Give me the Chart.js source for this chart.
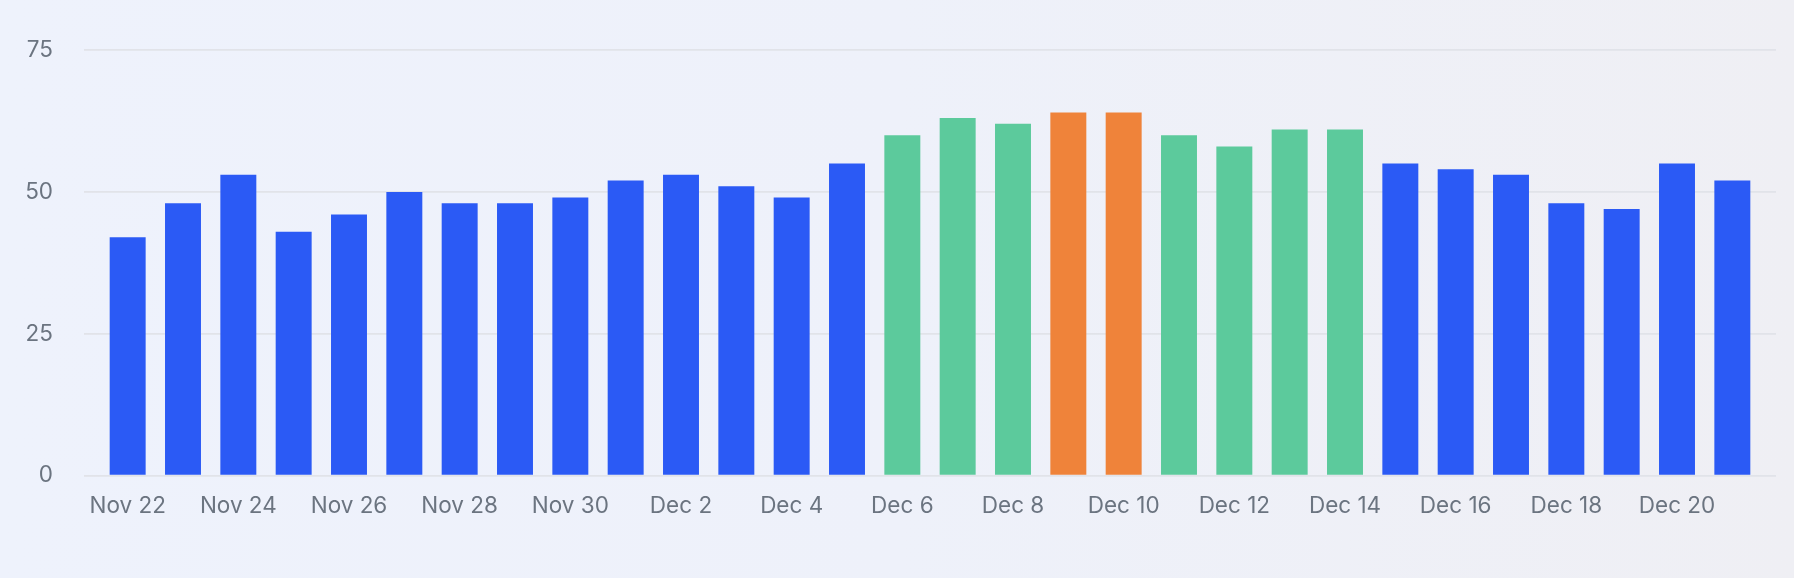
<!DOCTYPE html>
<html>
<head>
<meta charset="utf-8">
<script src="https://cdn.jsdelivr.net/npm/chart.js@4.4.1/dist/chart.umd.min.js"></script>
<style>
  html, body { margin: 0; padding: 0; }
  body {
    width: 1794px; height: 578px; overflow: hidden;
    background: linear-gradient(90deg, #eef2fc 0%, #eef1fa 50%, #efeff4 100%);
  }
  #wrap { position: relative; width: 1794px; height: 578px; }
</style>
</head>
<body>
<div id="wrap"><canvas id="c" width="1794" height="578"></canvas></div>
<script>
const categories = [
  "Nov 22","Nov 23","Nov 24","Nov 25","Nov 26","Nov 27","Nov 28","Nov 29","Nov 30",
  "Dec 1","Dec 2","Dec 3","Dec 4","Dec 5","Dec 6","Dec 7","Dec 8","Dec 9","Dec 10",
  "Dec 11","Dec 12","Dec 13","Dec 14","Dec 15","Dec 16","Dec 17","Dec 18","Dec 19","Dec 20","Dec 21"
];
const values = [
  42, 48, 53, 43, 46, 50, 48, 48, 49,
  52, 53, 51, 49, 55, 60, 63, 62, 64, 64,
  60, 58, 61, 61, 55, 54, 53, 48, 47, 55, 52
];
const yTicks = [0, 25, 50, 75];

const BLUE = '#2b5af5', GREEN = '#5cca9c', ORANGE = '#ef833a';
const barColors = values.map(v => v >= 64 ? ORANGE : (v >= 58 ? GREEN : BLUE));

const GRID = '#e1e3e9';
const TEXT = '#6b7480';
const FONT = { family: 'Inter', size: 22.5 };

new Chart(document.getElementById('c'), {
  type: 'bar',
  data: {
    labels: categories,
    datasets: [{
      data: values,
      backgroundColor: barColors,
      borderWidth: 0,
      barPercentage: 0.65,
      categoryPercentage: 1.0
    }]
  },
  options: {
    responsive: false,
    animation: false,
    events: [],
    layout: { padding: { left: 0, right: 18, top: 50, bottom: 0 } },
    plugins: { legend: { display: false }, tooltip: { enabled: false } },
    scales: {
      x: {
        grid: { display: false, drawTicks: false },
        border: { display: false },
        ticks: {
          color: TEXT, font: FONT, padding: 17,
          autoSkip: false, maxRotation: 0, minRotation: 0,
          callback: (v, i) => (i % 2 === 0 ? categories[i] : '')
        },
        afterFit: s => { s.height = 102.3; }
      },
      y: {
        min: yTicks[0], max: yTicks[yTicks.length - 1],
        afterBuildTicks: s => { s.ticks = yTicks.map(v => ({ value: v })); },
        grid: { color: GRID, lineWidth: 1.8, drawTicks: true, tickLength: 16, tickColor: GRID, tickWidth: 1.8 },
        border: { display: false },
        ticks: { color: TEXT, font: FONT, padding: 31 },
        afterFit: s => { s.width = 100; }
      },
      y2: {
        position: 'right',
        min: yTicks[0], max: yTicks[yTicks.length - 1],
        afterBuildTicks: s => { s.ticks = yTicks.map(v => ({ value: v })); },
        grid: { drawOnChartArea: false, color: GRID, lineWidth: 1.8, drawTicks: true, tickLength: 16, tickColor: GRID, tickWidth: 1.8 },
        border: { display: false },
        ticks: { display: false },
        afterFit: s => { s.width = 16; }
      }
    }
  }
});
</script>
</body>
</html>
